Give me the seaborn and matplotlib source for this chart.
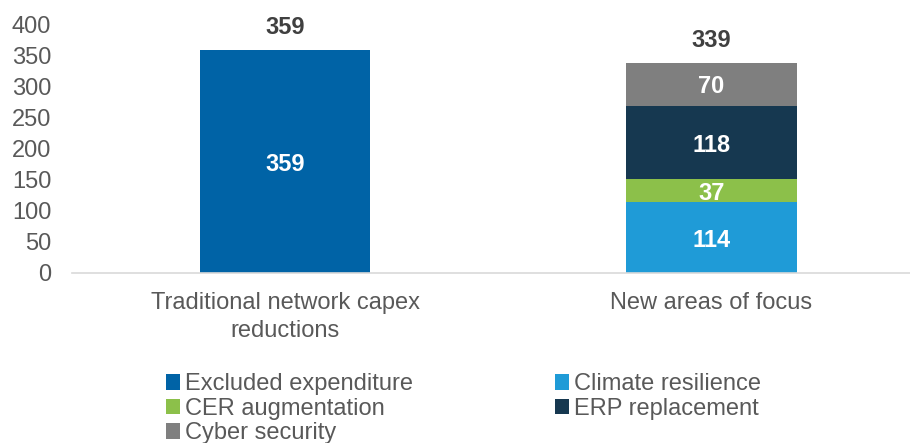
import matplotlib
matplotlib.use("Agg")
import matplotlib.pyplot as plt
from matplotlib.patches import Patch
import seaborn as sns
import numpy as np

categories = ["Traditional network capex\nreductions", "New areas of focus"]
series_names = ["Excluded expenditure", "Climate resilience", "CER augmentation",
                "ERP replacement", "Cyber security"]
excluded = [359, 0]
climate = [0, 114]
cer = [0, 37]
erp = [0, 118]
cyber = [0, 70]
totals = [359, 339]
yticks = [0, 50, 100, 150, 200, 250, 300, 350, 400]

colors = ["#0063A6", "#1F9BD7", "#8CC04A", "#163850", "#7F7F7F"]
FS = 17

sns.set_theme(style="white")
plt.rcParams["font.family"] = ["Liberation Sans", "DejaVu Sans"]

fig = plt.figure(figsize=(9.1, 4.43), dpi=100)
ax = fig.add_axes([0.0791, 0.384, 0.9209, 0.56])

bottom = np.zeros(len(categories))
for name, vals, col in zip(series_names, [excluded, climate, cer, erp, cyber], colors):
    vals = np.array(vals, dtype=float)
    sns.barplot(x=categories, y=vals, bottom=bottom, color=col, width=0.4,
                ax=ax, saturation=1, edgecolor="none", linewidth=0)
    for i, v in enumerate(vals):
        if v > 0:
            ax.text(i, bottom[i] + v / 2, f"{int(v)}", ha="center",
                    va="center_baseline", color="white", fontsize=FS,
                    fontweight="bold")
    bottom += vals

for i, t in enumerate(totals):
    ax.annotate(f"{t}", (i, t), xytext=(0, 8), textcoords="offset points",
                ha="center", va="bottom", fontsize=FS, fontweight="bold",
                color="#404040")

ax.set_ylim(0, 400)
ax.set_xlim(-0.5, 1.466)
ax.set_yticks(yticks)
ax.tick_params(axis="both", length=0, labelsize=FS, colors="#595959")
ax.tick_params(axis="x", pad=14)
ax.tick_params(axis="y", pad=15)
for lbl in ax.get_xticklabels():
    lbl.set_linespacing(1.35)
for s in ["top", "right", "left"]:
    ax.spines[s].set_visible(False)
ax.spines["bottom"].set_color("#D9D9D9")
ax.spines["bottom"].set_linewidth(1.2)

handles = {n: Patch(facecolor=c, edgecolor="none") for n, c in zip(series_names, colors)}
order = ["Excluded expenditure", "CER augmentation", "Cyber security",
         "Climate resilience", "ERP replacement"]
leg = fig.legend([handles[n] for n in order], order, loc="upper left",
                 bbox_to_anchor=(0.182, 0.157), ncol=2, frameon=False,
                 fontsize=FS, handlelength=0.62, handleheight=0.62,
                 handletextpad=0.2, labelspacing=0.1, columnspacing=6.0,
                 borderaxespad=0, borderpad=0)
for t in leg.get_texts():
    t.set_color("#595959")

fig.savefig("out.png", dpi=100)
